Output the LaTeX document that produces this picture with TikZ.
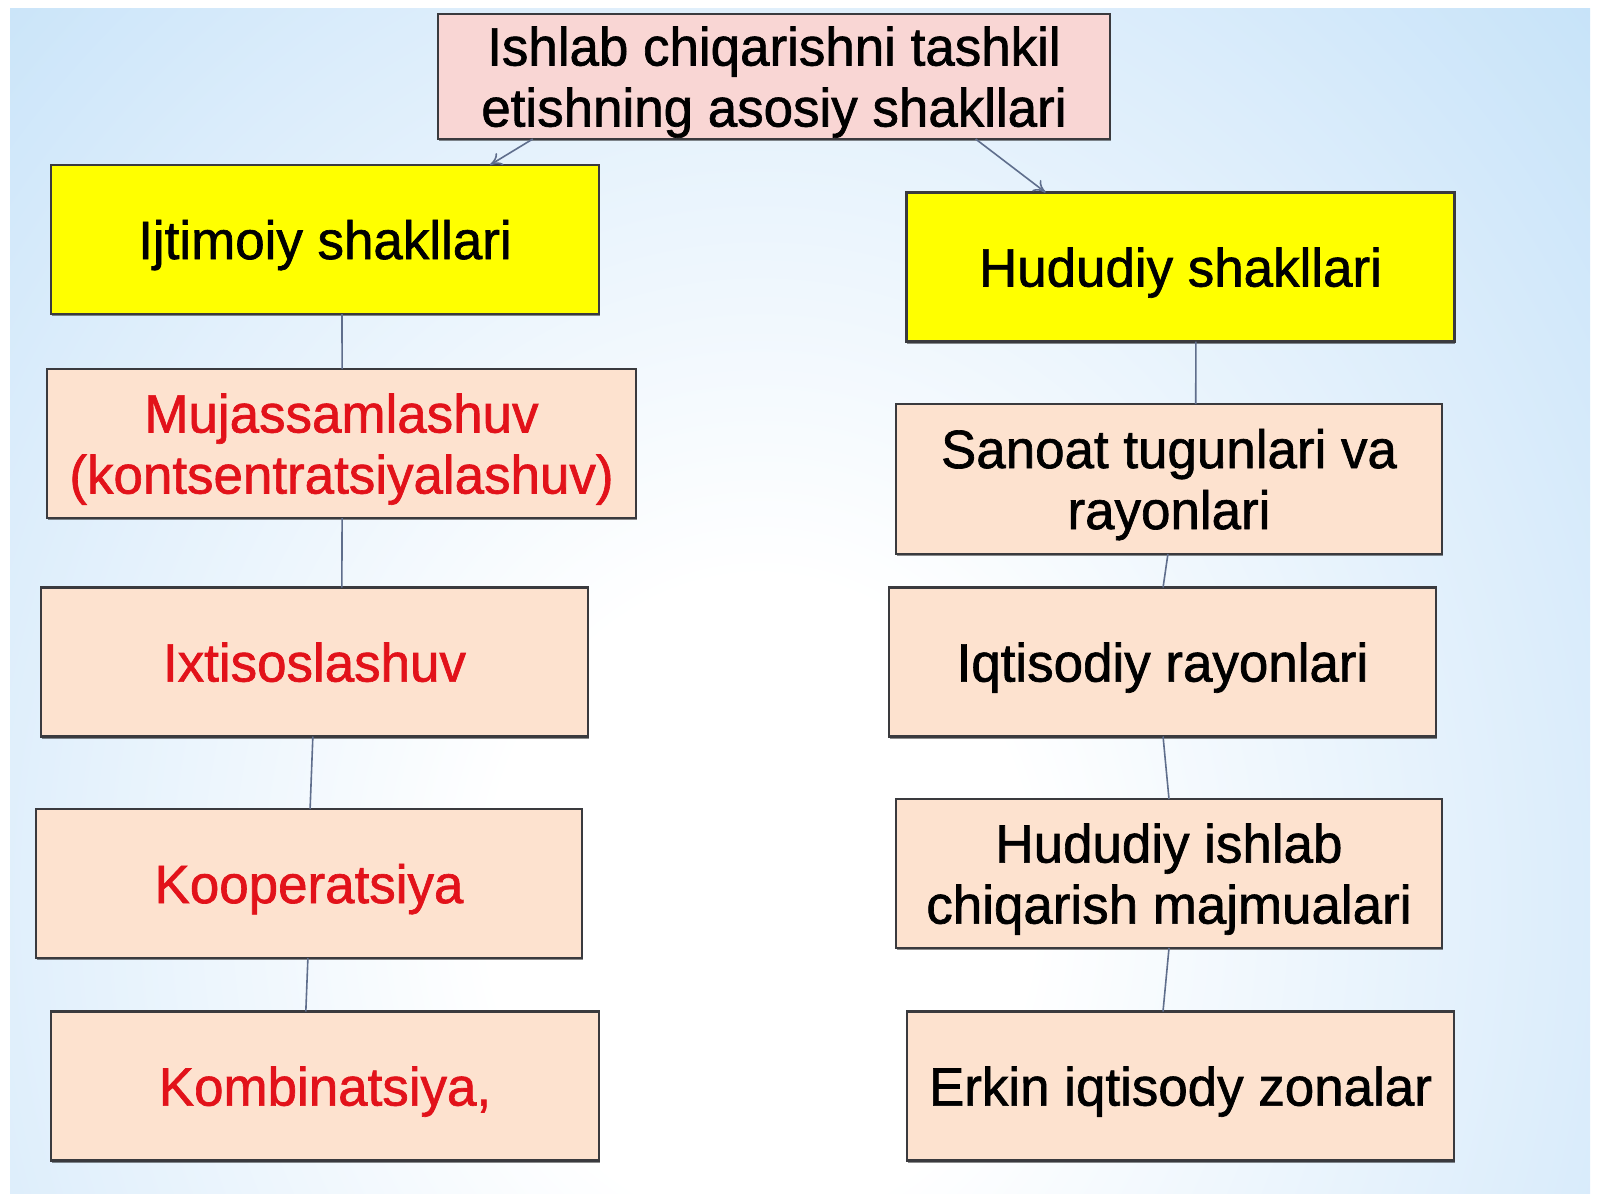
\documentclass[tikz,border=0pt]{standalone}
\usepackage{fontspec}
\setmainfont{Liberation Sans}[FakeBold=1.2,FakeStretch=0.98]
\usetikzlibrary{calc,arrows.meta,shadows}
\definecolor{panelblue}{RGB}{176,216,246}
\definecolor{lightpanel}{RGB}{220,237,251}
\definecolor{titlepink}{RGB}{249,214,212}
\definecolor{peach}{RGB}{253,226,207}
\definecolor{boxyellow}{RGB}{255,255,0}
\definecolor{boxline}{RGB}{58,58,62}
\definecolor{linkcol}{RGB}{95,110,140}
\definecolor{txtred}{RGB}{226,18,26}
\pgfdeclareradialshading{bgglow}{\pgfpoint{0bp}{0bp}}{color(0bp)=(white); color(8bp)=(white); color(24bp)=(lightpanel); color(43bp)=(panelblue); color(100bp)=(panelblue)}
\tikzset{
  basebox/.style={draw=boxline, line width=1.1pt, inner sep=0pt, outer sep=0pt, align=center,
    text depth=0pt,
    font=\fontsize{27pt}{30.5pt}\selectfont,
    drop shadow={shadow xshift=0.4pt, shadow yshift=-1.2pt, opacity=0.45, fill=black}},
  titlebox/.style={basebox, fill=titlepink, minimum width=336pt, minimum height=62.5pt},
  headbox/.style={basebox, fill=boxyellow, minimum width=274pt, minimum height=74.5pt},
  redbox/.style={basebox, fill=peach, text=txtred, minimum height=74.5pt},
  blackbox/.style={basebox, fill=peach, minimum height=74.5pt},
  link/.style={draw=linkcol, line width=0.8pt},
  arrowlink/.style={link, -{To[length=6pt,width=7pt]}}
}
\begin{document}
\begin{tikzpicture}[x=0.5pt,y=-0.5pt]
\useasboundingbox (0,0) rectangle (1600,1200);
\fill[white] (0,0) rectangle (1600,1200);
\begin{scope}
\clip (10,8) rectangle (1590,1193);
\fill[panelblue] (10,8) rectangle (1590,1193);
\shade[shading=bgglow] (-90,-100) rectangle (1610,1900);
\end{scope}

\node[titlebox] (title) at (774,76.5) {Ishlab chiqarishni tashkil\\etishning asosiy shakllari};

\node[headbox] (ijt) at (325,239.5) {Ijtimoiy shakllari};
\node[headbox] (hud) at (1180.5,267) {Hududiy shakllari};

\node[redbox, minimum width=294.5pt] (muj) at (341.5,443.5) {Mujassamlashuv\\(kontsentratsiyalashuv)};
\node[redbox, minimum width=273.5pt] (ixt) at (314.5,662) {Ixtisoslashuv};
\node[redbox, minimum width=273pt] (koo) at (309,883.5) {Kooperatsiya};
\node[redbox, minimum width=274pt] (kom) at (325,1086) {Kombinatsiya,};

\node[blackbox, minimum width=273pt, minimum height=75pt] (san) at (1169,479) {Sanoat tugunlari va\\rayonlari};
\node[blackbox, minimum width=273.5pt] (iqt) at (1162.5,662) {Iqtisodiy rayonlari};
\node[blackbox, minimum width=273pt] (him) at (1169,873.5) {Hududiy ishlab\\chiqarish majmualari};
\node[blackbox, minimum width=273.5pt] (erk) at (1180.5,1086) {Erkin iqtisody zonalar};

\draw[arrowlink] ($(title.south west)!0.141!(title.south east)$) -- ($(ijt.north west)!0.801!(ijt.north east)$);
\draw[arrowlink] ($(title.south west)!0.80!(title.south east)$) -- ($(hud.north west)!0.254!(hud.north east)$);

\draw[link] ($(ijt.south west)!0.531!(ijt.south east)$) -- ($(muj.north west)!0.501!(muj.north east)$);
\draw[link] ($(muj.south west)!0.501!(muj.south east)$) -- ($(ixt.north west)!0.550!(ixt.north east)$);
\draw[link] ($(ixt.south west)!0.497!(ixt.south east)$) -- ($(koo.north west)!0.502!(koo.north east)$);
\draw[link] ($(koo.south west)!0.498!(koo.south east)$) -- ($(kom.north west)!0.465!(kom.north east)$);

\draw[link] ($(hud.south west)!0.528!(hud.south east)$) -- ($(san.north west)!0.549!(san.north east)$);
\draw[link] ($(san.south west)!0.498!(san.south east)$) -- ($(iqt.north west)!0.501!(iqt.north east)$);
\draw[link] ($(iqt.south west)!0.501!(iqt.south east)$) -- ($(him.north west)!0.5!(him.north east)$);
\draw[link] ($(him.south west)!0.5!(him.south east)$) -- ($(erk.north west)!0.468!(erk.north east)$);
\end{tikzpicture}
\end{document}
